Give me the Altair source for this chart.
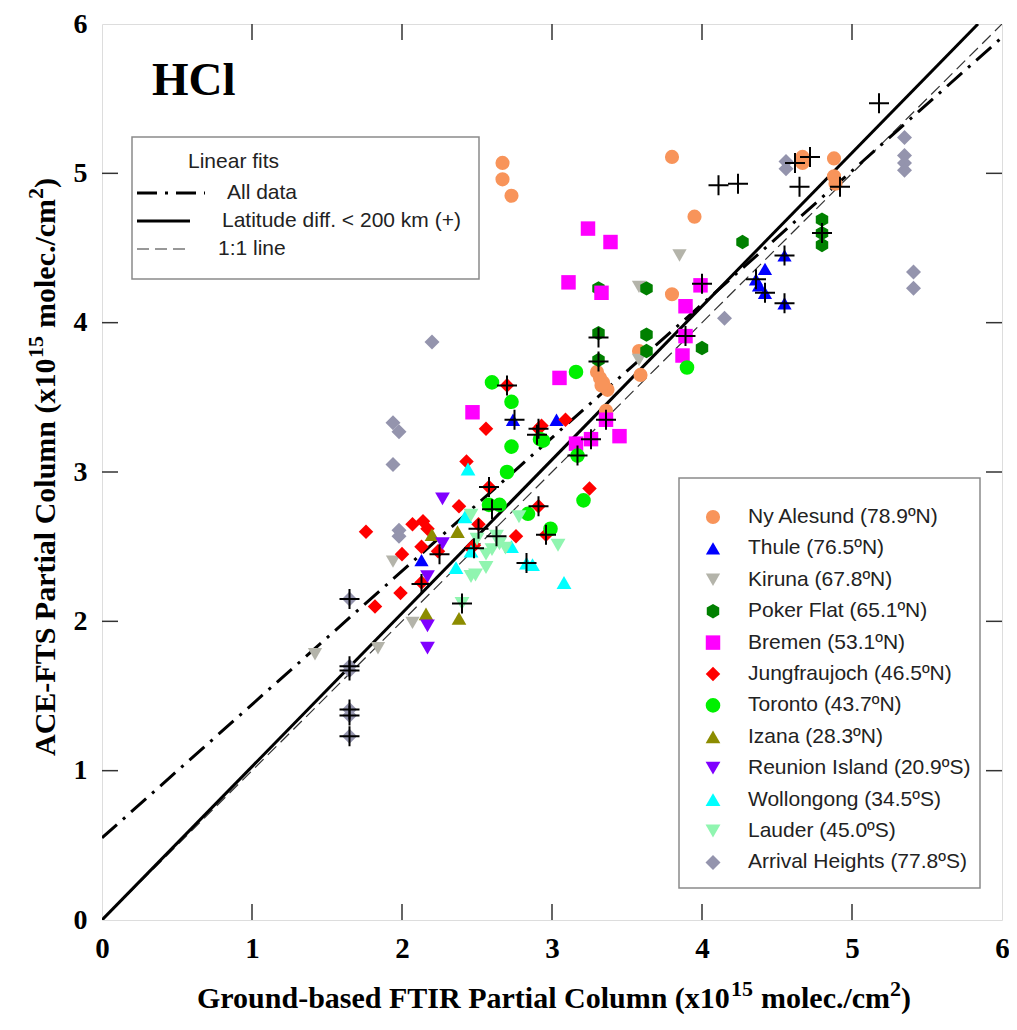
import altair as alt
import pandas as pd

SERIF = "Liberation Serif"
SANS = "Liberation Sans"

stations = ["Ny Alesund (78.9ºN)", "Thule (76.5ºN)", "Kiruna (67.8ºN)", "Poker Flat (65.1ºN)",
            "Bremen (53.1ºN)", "Jungfraujoch (46.5ºN)", "Toronto (43.7ºN)", "Izana (28.3ºN)",
            "Reunion Island (20.9ºS)", "Wollongong (34.5ºS)", "Lauder (45.0ºS)", "Arrival Heights (77.8ºS)"]
colors = ["#f8945a", "#0000ff", "#b4b4aa", "#008000", "#ff00ff", "#ff0000", "#00f000", "#8c8c00",
          "#8000ff", "#00ffff", "#90f5b0", "#9494ad"]
HEX = "M0,-1L0.866,-0.5L0.866,0.5L0,1L-0.866,0.5L-0.866,-0.5Z"
shapes = ["circle", "triangle-up", "triangle-down", HEX, "square", "diamond", "circle", "triangle-up",
          "triangle-down", "triangle-up", "triangle-down", "diamond"]
sizes = [200, 225, 225, 210, 175, 289, 200, 225, 225, 225, 225, 256]

ny_x = [2.67, 2.67, 2.73, 3.80, 3.95, 3.80, 4.67, 4.67, 4.88, 4.88, 4.89, 3.30, 3.32, 3.34, 3.37, 3.36, 3.58, 3.59, 3.33]
ny_y = [5.07, 4.96, 4.85, 5.11, 4.71, 4.19, 5.11, 5.07, 5.10, 4.98, 4.93, 3.67, 3.63, 3.60, 3.55, 3.41, 3.81, 3.65, 3.58]
thule_x = [4.42, 4.36, 4.38, 4.42, 4.55, 4.55, 2.74, 3.03, 2.13]
thule_y = [4.36, 4.29, 4.25, 4.20, 4.45, 4.13, 3.35, 3.35, 2.41]
kiruna_x = [3.85, 3.58, 3.58, 1.94, 1.42, 1.84, 2.07]
kiruna_y = [4.45, 4.24, 3.75, 2.40, 1.78, 1.82, 1.99]
poker_x = [3.31, 3.63, 4.27, 4.80, 4.80, 4.80, 3.31, 3.31, 3.63, 3.63, 4.00]
poker_y = [4.23, 4.23, 4.54, 4.69, 4.60, 4.52, 3.93, 3.75, 3.92, 3.81, 3.83]
bremen_x = [3.24, 3.39, 3.11, 3.33, 3.89, 3.05, 3.89, 3.87, 3.45, 3.36, 3.26, 3.16, 2.47, 3.99]
bremen_y = [4.63, 4.54, 4.27, 4.20, 4.11, 3.63, 3.91, 3.78, 3.24, 3.35, 3.22, 3.19, 3.40, 4.25]
jungfrau_x = [2.56, 2.91, 3.09, 2.43, 2.58, 2.38, 2.91, 1.76, 2.07, 2.14, 2.17, 2.13, 2.00, 2.24, 2.51,
              2.48, 2.46, 2.76, 2.96, 2.93, 2.70, 3.25, 1.82, 1.99, 2.13]
jungfrau_y = [3.29, 3.29, 3.35, 3.07, 2.90, 2.77, 2.77, 2.60, 2.65, 2.67, 2.62, 2.50, 2.45, 2.47, 2.65,
              2.51, 2.49, 2.57, 2.58, 3.31, 3.58, 2.89, 2.10, 2.19, 2.26]
toronto_x = [2.60, 2.73, 2.73, 2.70, 2.94, 3.16, 3.21, 2.58, 2.65, 2.84, 2.99, 3.17, 3.90, 2.92]
toronto_y = [3.60, 3.47, 3.17, 3.00, 3.21, 3.67, 2.81, 2.78, 2.78, 2.72, 2.62, 3.11, 3.70, 3.22]
izana_x = [2.20, 2.37, 2.16, 2.38]
izana_y = [2.58, 2.60, 2.05, 2.02]
reunion_x = [2.27, 2.27, 2.17, 2.17, 2.17]
reunion_y = [2.82, 2.52, 1.97, 1.82, 2.30]
woll_x = [2.44, 2.73, 2.87, 2.83, 3.08, 2.36, 2.46, 2.42]
woll_y = [3.02, 2.50, 2.38, 2.39, 2.26, 2.36, 2.47, 2.70]
lauder_x = [2.46, 2.49, 2.46, 2.56, 2.60, 2.65, 2.69, 2.63, 2.78, 3.04, 2.50, 2.40, 2.56]
lauder_y = [2.71, 2.31, 2.30, 2.36, 2.48, 2.52, 2.49, 2.57, 2.70, 2.51, 2.55, 2.12, 2.45]
arrival_x = [4.56, 4.56, 5.35, 5.35, 5.35, 5.35, 5.41, 5.41, 4.15, 2.20, 1.94, 1.98, 1.94, 1.98, 1.98,
             1.65, 1.65, 1.65, 1.65, 1.65, 1.65]
arrival_y = [5.08, 5.03, 5.24, 5.12, 5.07, 5.02, 4.34, 4.23, 4.03, 3.87, 3.33, 3.27, 3.05, 2.61, 2.57,
             2.15, 1.70, 1.67, 1.41, 1.37, 1.23]

cross_x = [5.18, 4.11, 4.24, 4.62, 4.72, 4.65, 4.92, 4.80, 4.55, 4.55, 4.42, 4.36, 4.00, 3.31, 3.31, 3.89,
           3.36, 3.26, 3.17, 2.70, 2.75, 2.91, 2.90, 2.58, 2.60, 2.91, 2.96, 2.51, 2.63, 2.48, 2.25, 2.13,
           2.83, 2.40, 1.65, 1.65, 1.65, 1.65, 1.65, 1.65]
cross_y = [5.47, 4.92, 4.93, 5.07, 5.11, 4.91, 4.91, 4.60, 4.45, 4.13, 4.20, 4.29, 4.26, 3.90, 3.74, 3.91,
           3.35, 3.22, 3.11, 3.58, 3.35, 3.29, 3.25, 2.90, 2.75, 2.77, 2.58, 2.62, 2.57, 2.49, 2.45, 2.25,
           2.39, 2.12, 2.15, 1.70, 1.67, 1.41, 1.37, 1.23]

fit_all_x = [0.0, 6.0]
fit_all_y = [0.55, 5.91]
fit_near_x = [0.0, 5.84]
fit_near_y = [0.0, 6.0]
one_x = [0.0, 6.0]
one_y = [0.0, 6.0]

tick_values = [0, 1, 2, 3, 4, 5, 6]
inner_ticks = [1, 2, 3, 4, 5]

series = [(ny_x, ny_y), (thule_x, thule_y), (kiruna_x, kiruna_y), (poker_x, poker_y),
          (bremen_x, bremen_y), (jungfrau_x, jungfrau_y), (toronto_x, toronto_y), (izana_x, izana_y),
          (reunion_x, reunion_y), (woll_x, woll_y), (lauder_x, lauder_y), (arrival_x, arrival_y)]
rows = []
for name, (xs, ys) in zip(stations, series):
    for a, b in zip(xs, ys):
        rows.append({"station": name, "x": a, "y": b})
df = pd.DataFrame(rows)
cross_df = pd.DataFrame({"x": cross_x, "y": cross_y})

TOP = 16  # plot top at page y = 8 + TOP
W, H = 900, 896
xs_ = alt.Scale(domain=[0, 6], nice=False, zero=False)
ys_ = alt.Scale(domain=[0, 6], nice=False, zero=False)
x_axis = alt.Axis(values=tick_values, format="d", ticks=False, tickSize=0, domain=False, grid=False,
                  labelFont=SERIF, labelFontWeight="bold", labelFontSize=29, labelColor="black",
                  labelPadding=14, labelFlush=False, title=None)
y_axis = alt.Axis(values=tick_values, format="d", ticks=False, tickSize=0, domain=False, grid=False,
                  labelFont=SERIF, labelFontWeight="bold", labelFontSize=28, labelColor="black",
                  labelPadding=15, labelFlush=False, title=None)
X = alt.X("x:Q", scale=xs_, axis=x_axis)
Y = alt.Y("y:Q", scale=ys_, axis=y_axis)

# decoration positions are given relative to a reference origin at page (102, 20)
dy = 12 - TOP
leg = alt.Legend(title=None, orient="none", legendX=600.5, legendY=486.5 + dy, labelFont=SANS, labelFontSize=21,
                 labelColor="#222", labelLimit=500, symbolSize=180, symbolStrokeWidth=0, rowPadding=9.4,
                 labelOffset=24.5, symbolOpacity=1, padding=0)

one = pd.DataFrame({"a": [0]})

def box(x1, x2, y1, y2):
    return alt.Chart(one).mark_rect(fill="white", stroke="#8a8a8a", strokeWidth=1.5).encode(
        x=alt.value(x1), x2=alt.value(x2), y=alt.value(y1 + dy), y2=alt.value(y2 + dy))

def txt(s, x, y, size, font=SANS, weight="normal", align="left", baseline="middle", angle=0, color="#222"):
    return alt.Chart(one).mark_text(text=s, font=font, fontSize=size, fontWeight=weight, align=align,
                                    baseline=baseline, angle=angle, color=color).encode(
        x=alt.value(x), y=alt.value(y + dy))

def seg(x1, x2, y, dash, width, color="black"):
    kw = dict(color=color, strokeWidth=width)
    if dash:
        kw["strokeDash"] = dash
    return alt.Chart(one).mark_rule(**kw).encode(x=alt.value(x1), x2=alt.value(x2), y=alt.value(y + dy))

def line(xv, yv, dash, width, color="black"):
    kw = dict(color=color, strokeWidth=width, clip=True)
    if dash:
        kw["strokeDash"] = dash
    return alt.Chart(pd.DataFrame({"x": xv, "y": yv})).mark_line(**kw).encode(x=X, y=Y)

DASHDOT = [20, 8, 3, 8]
DASH = [12, 6]

tick_df = pd.DataFrame({"x": inner_ticks, "y": inner_ticks})
tcol = "#333333"
ticks_b = alt.Chart(tick_df).mark_rule(color=tcol, strokeWidth=1.5).encode(x=X, y=alt.value(H), y2=alt.value(H - 16))
ticks_t = alt.Chart(tick_df).mark_rule(color=tcol, strokeWidth=1.5).encode(x=X, y=alt.value(0), y2=alt.value(16))
ticks_l = alt.Chart(tick_df).mark_rule(color=tcol, strokeWidth=1.5).encode(y=Y, x=alt.value(0), x2=alt.value(16))
ticks_r = alt.Chart(tick_df).mark_rule(color=tcol, strokeWidth=1.5).encode(y=Y, x=alt.value(W), x2=alt.value(W - 16))

points = alt.Chart(df).mark_point(filled=True, opacity=1, strokeWidth=0).encode(
    x=X, y=Y,
    color=alt.Color("station:N", scale=alt.Scale(domain=stations, range=colors), legend=leg),
    shape=alt.Shape("station:N", scale=alt.Scale(domain=stations, range=shapes), legend=leg),
    size=alt.Size("station:N", scale=alt.Scale(domain=stations, range=sizes), legend=None),
)
crosses = alt.Chart(cross_df).mark_point(shape="M-1,0L1,0M0,-1L0,1", filled=False, stroke="black",
                                        strokeWidth=2, size=400, opacity=1).encode(x=X, y=Y)

# axis titles built from segments (superscripts)
TB = 988
xt = [
    txt("Ground-based FTIR Partial Column (x10", 95, TB, 30, SERIF, "bold", "left", "alphabetic", 0, "black"),
    txt("15", 629, TB - 12, 22, SERIF, "bold", "left", "alphabetic", 0, "black"),
    txt("molec./cm", 659, TB, 30, SERIF, "bold", "left", "alphabetic", 0, "black"),
    txt("2", 788, TB - 12, 22, SERIF, "bold", "left", "alphabetic", 0, "black"),
    txt(")", 799, TB, 30, SERIF, "bold", "left", "alphabetic", 0, "black"),
]
YB = -47
yt = [
    txt("ACE-FTS Partial Column (x10", YB, 736, 30, SERIF, "bold", "left", "alphabetic", 270, "black"),
    txt("15", YB - 12, 338, 22, SERIF, "bold", "left", "alphabetic", 270, "black"),
    txt("molec./cm", YB, 308, 30, SERIF, "bold", "left", "alphabetic", 270, "black"),
    txt("2", YB - 12, 179, 22, SERIF, "bold", "left", "alphabetic", 270, "black"),
    txt(")", YB, 168, 30, SERIF, "bold", "left", "alphabetic", 270, "black"),
]

fit_legend = [
    box(30, 377, 117, 259),
    txt("Linear fits", 86, 142, 21),
    seg(35, 103, 173, DASHDOT, 3),
    txt("All data", 125, 173, 21),
    seg(35, 88, 201, None, 3),
    txt("Latitude diff. < 200 km (+)", 120, 201, 21),
    seg(35, 88, 229, DASH, 1.2, "#333333"),
    txt("1:1 line", 116, 229, 21),
]

chart = alt.layer(
    line(one_x, one_y, DASH, 1.2, "#333333"),
    line(fit_all_x, fit_all_y, DASHDOT, 3),
    line(fit_near_x, fit_near_y, None, 3),
    points,
    crosses,
    ticks_b, ticks_t, ticks_l, ticks_r,
    box(577, 878, 458, 868),
    *fit_legend,
    txt("HCl", 50, 75, 47, SERIF, "bold", "left", "alphabetic", 0, "black"),
    *xt, *yt,
).properties(
    width=W, height=H,
    autosize=alt.AutoSizeParams(type="none"),
    padding={"left": 94, "top": TOP, "right": 7, "bottom": 94},
).configure_view(stroke="black", strokeWidth=2.5).configure(background="white")

chart.save("out.html", embed_options={"renderer": "svg", "actions": False})
